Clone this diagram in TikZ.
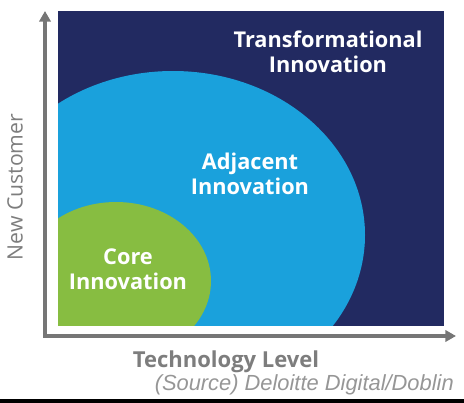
\documentclass[tikz,border=0pt]{standalone}
\usepackage{fontspec}
\setmainfont{Open Sans}
\newfontfamily\srcfont{Liberation Sans}
\usepackage{tikz}
\usetikzlibrary{arrows.meta}

\definecolor{navyblue}{RGB}{34,42,97}
\definecolor{skyblue}{RGB}{26,161,220}
\definecolor{leafgreen}{RGB}{135,189,65}
\definecolor{axisgray}{RGB}{118,118,118}
\definecolor{labelgray}{RGB}{125,125,125}
\definecolor{srcgray}{RGB}{150,150,150}

\tikzset{
  zonetext/.style={text=white,font=\fontsize{16.3}{18.75}\selectfont\bfseries,align=center,inner sep=0.75pt},
  axisline/.style={draw=axisgray,line width=2.4pt,-{Triangle[length=8pt,width=8.5pt]}},
}

\begin{document}
\begin{tikzpicture}[x=0.75pt,y=0.75pt,yscale=-1,xscale=1]
\useasboundingbox (0,0) rectangle (464,403);

%Shape: Rectangle (outer zone)
\fill[navyblue] (58,11) rectangle (444,325.5);
\begin{scope}
\clip (58,11) rectangle (444,325.5);
%Shape: Ellipse (middle zone)
\fill[skyblue] (173,235) ellipse [x radius=192,y radius=164];
%Shape: Ellipse (inner zone)
\fill[leafgreen] (116,281) ellipse [x radius=95,y radius=79];
\end{scope}

%Axes
\coordinate (origin) at (45,336);
\coordinate (ytip) at (45,11);
\coordinate (xtip) at (456,336);
\draw[axisline] ([yshift=-1.2pt]origin) -- (ytip);
\draw[axisline] ([xshift=-1.2pt]origin) -- (xtip);

%Bottom rule
\fill[black] (0,399) rectangle (464,403);

% Text Node
\node (transf) at (328,52) [zonetext] {Transformational\\Innovation};
% Text Node
\node (adj) at (250,174) [zonetext] {Adjacent\\Innovation};
% Text Node
\node (core) at (128,269) [zonetext] {Core\\Innovation};
% Text Node
\node (ylabel) at (15,187) [rotate=90,text=labelgray,font=\fontsize{15.9}{17}\selectfont,inner sep=0.75pt] {New Customer};
% Text Node
\node (xlabel) at (226,367) [anchor=base,text=labelgray,font=\fontsize{16.5}{18}\selectfont\bfseries,inner sep=0.75pt] {Technology Level};
% Text Node
\node (source) at (455,390) [anchor=base east,text=srcgray,font=\srcfont\fontsize{16.4}{18}\selectfont\itshape,inner sep=0.75pt] {(Source) Deloitte Digital/Doblin};

\end{tikzpicture}
\end{document}
